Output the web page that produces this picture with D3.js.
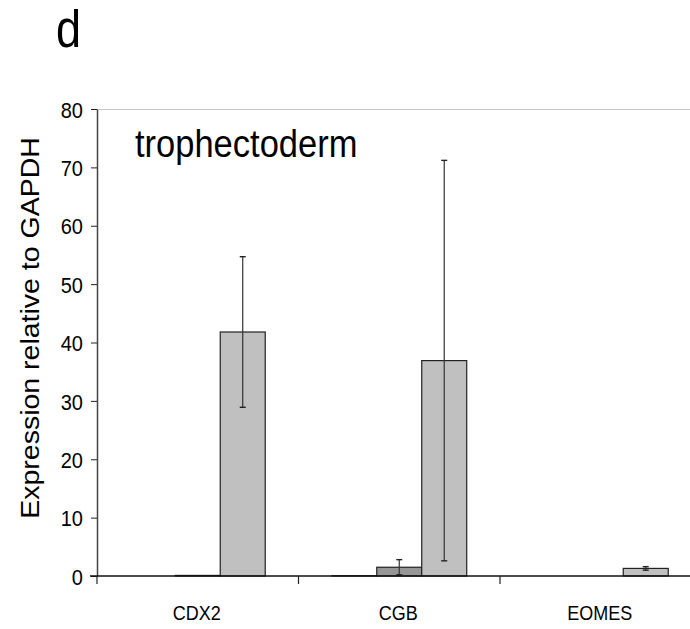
<!DOCTYPE html>
<html>
<head>
<meta charset="utf-8">
<script src="https://cdn.jsdelivr.net/npm/d3@7"></script>
<style>
  html, body { margin: 0; padding: 0; background: #fff; }
  svg { display: block; font-family: "Liberation Sans", Arial, sans-serif; }
</style>
</head>
<body>
<svg id="chart" width="690" height="629"></svg>
<script>
// Expression data (relative to GAPDH) for three trophectoderm markers
const categories = ["CDX2", "CGB", "EOMES"];
const seriesNames = ["s1", "s2", "s3"];
const seriesValues = [
  [0, 0.05, 0],     // s1
  [0.1, 1.5, 0],    // s2
  [41.8, 36.9, 1.3] // s3
];
const seriesErrors = [
  [0, 0, 0],
  [0, 1.3, 0],
  [12.9, 34.3, 0.3]
];
const yTicks = [0, 10, 20, 30, 40, 50, 60, 70, 80];
const seriesFill = ["#ffffff", "#969696", "#c0c0c0"];

// text is drawn slightly taller than wide
const stretch = 1.14;

const svg = d3.select("#chart");
const plotLeft = 97, plotRight = 701.5, plotTop = 109, plotBottom = 576;

const x0 = d3.scaleBand().domain(categories).range([plotLeft, plotRight]).padding(0);
const x1 = d3.scaleBand().domain(seriesNames).range([0, x0.bandwidth()])
  .paddingInner(0).paddingOuter(0.74);
const y = d3.scaleLinear().domain([0, 80]).range([plotBottom, plotTop]);

// panel letter
svg.append("text")
  .attr("transform", `translate(56,47) scale(1,${stretch})`)
  .attr("font-size", 45).attr("fill", "#000").text("d");

// top border at the axis maximum
svg.append("line").attr("x1", plotLeft).attr("x2", 690)
  .attr("y1", y(80) + 0.5).attr("y2", y(80) + 0.5)
  .attr("stroke", "#c4c4c4").attr("stroke-width", 1);

// bars
const rows = [];
categories.forEach((c, ci) => {
  seriesNames.forEach((s, si) => {
    rows.push({ c, s, si, v: seriesValues[si][ci], e: seriesErrors[si][ci] });
  });
});

const g = svg.append("g");
g.selectAll("rect.bar").data(rows.filter(d => d.v > 0)).join("rect")
  .attr("class", "bar")
  .attr("x", d => x0(d.c) + x1(d.s))
  .attr("y", d => y(d.v))
  .attr("width", x1.bandwidth())
  .attr("height", d => y(0) - y(d.v))
  .attr("fill", d => seriesFill[d.si])
  .attr("stroke", "#222").attr("stroke-width", 1.2);

// error bars
const eb = g.selectAll("g.err").data(rows.filter(d => d.e > 0)).join("g").attr("class", "err");
const cx = d => x0(d.c) + x1(d.s) + x1.bandwidth() / 2;
eb.append("line")
  .attr("x1", cx).attr("x2", cx)
  .attr("y1", d => y(d.v + d.e)).attr("y2", d => y(Math.max(0, d.v - d.e)))
  .attr("stroke", "#333").attr("stroke-width", 1.2);
[1, -1].forEach(sign => {
  eb.append("line")
    .attr("x1", d => cx(d) - 3).attr("x2", d => cx(d) + 3)
    .attr("y1", d => y(d.v + sign * d.e)).attr("y2", d => y(d.v + sign * d.e))
    .attr("stroke", "#222").attr("stroke-width", 1.4);
});

// y axis
const yAxis = svg.append("g").attr("transform", `translate(${plotLeft},0)`)
  .call(d3.axisLeft(y).tickValues(yTicks).tickSize(6).tickSizeOuter(0));
yAxis.select(".domain").attr("stroke", "#444").attr("stroke-width", 1.5);
yAxis.selectAll(".tick line").attr("stroke", "#222");
yAxis.selectAll(".tick text")
  .attr("x", 0).attr("dy", "0.36em")
  .attr("transform", `translate(-14,0) scale(1,${stretch})`)
  .attr("font-size", 20).attr("fill", "#000")
  .attr("font-family", "Liberation Sans, Arial, sans-serif");

// x axis baseline with category separators
svg.append("line").attr("x1", plotLeft - 7).attr("x2", 690)
  .attr("y1", plotBottom).attr("y2", plotBottom).attr("stroke", "#111").attr("stroke-width", 1.5);
const seps = categories.map(c => x0(c));
svg.selectAll("line.sep").data(seps).join("line").attr("class", "sep")
  .attr("x1", d => d).attr("x2", d => d)
  .attr("y1", plotBottom).attr("y2", plotBottom + 8)
  .attr("stroke", "#222").attr("stroke-width", 1.2);
svg.selectAll("text.cat").data(categories).join("text").attr("class", "cat")
  .attr("transform", d => `translate(${x0(d) + x0.bandwidth() / 2 - 1},620) scale(1,${stretch})`)
  .attr("text-anchor", "middle")
  .attr("font-size", 18).attr("fill", "#000").text(d => d);

// axis title
svg.append("text")
  .attr("transform", `translate(39,328) rotate(-90) scale(${stretch},1)`)
  .attr("text-anchor", "middle").attr("font-size", 25).attr("fill", "#000")
  .text("Expression relative to GAPDH");

// panel title
svg.append("text")
  .attr("transform", `translate(135,157) scale(1,${stretch})`)
  .attr("font-size", 34.5).attr("fill", "#000").text("trophectoderm");
</script>
</body>
</html>
